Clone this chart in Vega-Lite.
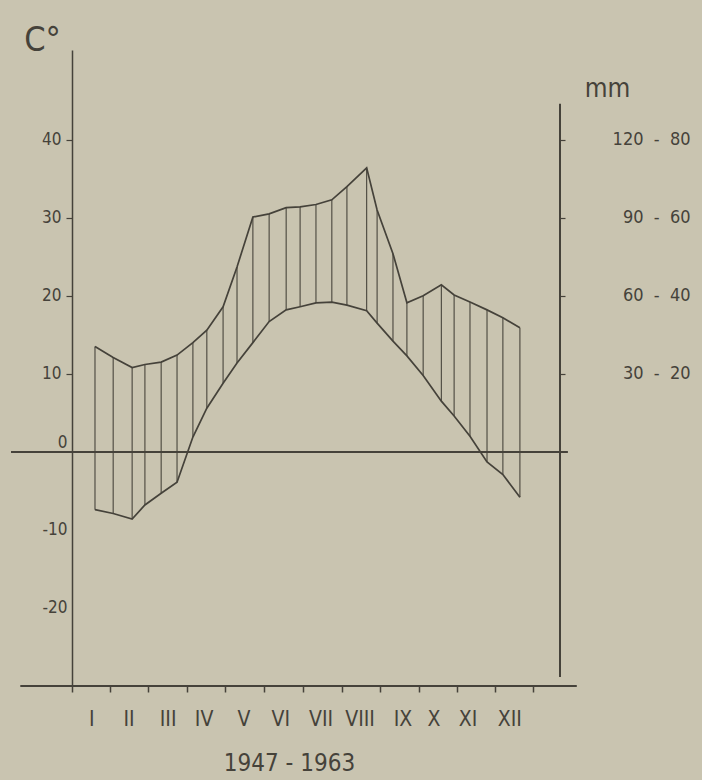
{
  "$schema": "https://vega.github.io/schema/vega-lite/v6.json",
  "width": 488,
  "height": 636,
  "autosize": "none",
  "padding": {"left": 72, "top": 50, "right": 142, "bottom": 94},
  "background": "#c9c4b0",
  "config": {
    "view": {"stroke": null},
    "font": "'Liberation Sans Narrow', 'DejaVu Sans Condensed', 'Roboto', sans-serif",
    "axis": {"grid": false, "labelColor": "#45423a", "titleColor": "#45423a", "tickColor": "#45423a", "domainColor": "#45423a", "titleFontWeight": "normal"}
  },
  "datasets": {
    "hatch": [
      {"m": 1.00, "p": 13.5, "t": -7.4},
      {"m": 1.47, "p": 12.1, "t": -7.9},
      {"m": 1.96, "p": 10.8, "t": -8.6},
      {"m": 2.29, "p": 11.2, "t": -6.8},
      {"m": 2.71, "p": 11.5, "t": -5.3},
      {"m": 3.12, "p": 12.4, "t": -3.9},
      {"m": 3.53, "p": 14.0, "t": 1.9},
      {"m": 3.89, "p": 15.6, "t": 5.6},
      {"m": 4.31, "p": 18.6, "t": 8.8},
      {"m": 4.67, "p": 23.7, "t": 11.4},
      {"m": 5.08, "p": 30.1, "t": 14.0},
      {"m": 5.50, "p": 30.5, "t": 16.7},
      {"m": 5.94, "p": 31.3, "t": 18.2},
      {"m": 6.30, "p": 31.4, "t": 18.6},
      {"m": 6.71, "p": 31.7, "t": 19.1},
      {"m": 7.12, "p": 32.3, "t": 19.2},
      {"m": 7.51, "p": 34.0, "t": 18.8},
      {"m": 8.02, "p": 36.4, "t": 18.1},
      {"m": 8.29, "p": 31.0, "t": 16.5},
      {"m": 8.70, "p": 25.4, "t": 14.2},
      {"m": 9.06, "p": 19.1, "t": 12.3},
      {"m": 9.48, "p": 20.0, "t": 9.8},
      {"m": 9.95, "p": 21.4, "t": 6.5},
      {"m": 10.28, "p": 20.1, "t": 4.6},
      {"m": 10.69, "p": 19.2, "t": 2.0},
      {"m": 11.13, "p": 18.2, "t": -1.3},
      {"m": 11.54, "p": 17.2, "t": -2.9},
      {"m": 11.98, "p": 15.9, "t": -5.8}
    ],
    "months": [
      {"month": "I", "pos": 0.92},
      {"month": "II", "pos": 1.88},
      {"month": "III", "pos": 2.89},
      {"month": "IV", "pos": 3.82},
      {"month": "V", "pos": 4.85},
      {"month": "VI", "pos": 5.8},
      {"month": "VII", "pos": 6.84},
      {"month": "VIII", "pos": 7.85},
      {"month": "IX", "pos": 8.96},
      {"month": "X", "pos": 9.76},
      {"month": "XI", "pos": 10.64},
      {"month": "XII", "pos": 11.72}
    ],
    "lines": [
      {"from": -1.17, "to": 13.22, "level": 0, "kind": "zero"},
      {"from": -0.93, "to": 13.45, "level": -30, "kind": "base"}
    ],
    "rightaxis": [
      {"at": 13.016, "top": 133.8, "bottom": -86.5}
    ]
  },
  "layer": [
    {
      "layer": [
        {
          "data": {"name": "hatch"},
          "mark": {"type": "rule", "color": "#48453c", "strokeWidth": 1.1},
          "encoding": {
            "x": {
              "field": "m", "type": "quantitative",
              "scale": {"domain": [0.406, 13.016], "nice": false, "zero": false},
              "axis": {
                "orient": "bottom",
                "values": [0.41, 1.39, 2.37, 3.38, 4.36, 5.37, 6.37, 7.38, 8.36, 9.37, 10.35, 11.33, 12.31],
                "labels": false, "domain": false, "tickSize": 6, "tickWidth": 1.5,
                "title": "1947 - 1963", "titleFontSize": 24, "titleX": 217, "titleY": 77,
                "titleAlign": "center", "titleBaseline": "middle"
              }
            },
            "y": {
              "field": "t", "type": "quantitative",
              "scale": {"domain": [-30, 51.5], "nice": false, "zero": false},
              "axis": {
                "orient": "left",
                "values": [-20, -10, 0, 10, 20, 30, 40],
                "labelExpr": "'' + datum.value",
                "tickSize": {"condition": {"test": "datum.value <= 0", "value": 0}, "value": 6},
                "labelOffset": {"condition": {"test": "datum.value == 0", "value": -9}, "value": 0},
                "labelPadding": 5, "labelFontSize": 17, "labelBaseline": "middle",
                "domainWidth": 1.5, "tickWidth": 1.2,
                "title": "C°", "titleAngle": 0, "titleFontSize": 34, "titleX": -30, "titleY": -10,
                "titleAlign": "center", "titleBaseline": "middle"
              }
            },
            "y2": {"field": "p"}
          }
        },
        {
          "data": {"name": "hatch"},
          "mark": {"type": "line", "color": "#45423a", "strokeWidth": 1.7},
          "encoding": {
            "x": {"field": "m", "type": "quantitative"},
            "y": {"field": "p", "type": "quantitative"}
          }
        },
        {
          "data": {"name": "hatch"},
          "mark": {"type": "line", "color": "#45423a", "strokeWidth": 1.7},
          "encoding": {
            "x": {"field": "m", "type": "quantitative"},
            "y": {"field": "t", "type": "quantitative"}
          }
        },
        {
          "data": {"name": "lines"},
          "mark": {"type": "rule", "color": "#45423a", "strokeWidth": 2},
          "encoding": {
            "x": {"field": "from", "type": "quantitative"},
            "x2": {"field": "to"},
            "y": {"field": "level", "type": "quantitative"}
          }
        },
        {
          "data": {"name": "months"},
          "mark": {"type": "text", "color": "#45423a", "fontSize": 21, "baseline": "middle", "align": "center"},
          "encoding": {
            "x": {"field": "pos", "type": "quantitative"},
            "y": {"datum": -34.4},
            "text": {"field": "month"}
          }
        }
      ]
    },
    {
      "data": {"name": "rightaxis"},
      "mark": {"type": "rule", "color": "#45423a", "strokeWidth": 2},
      "encoding": {
        "x": {"field": "at", "type": "quantitative"},
        "y": {
          "field": "top", "type": "quantitative",
          "scale": {"domain": [-90, 154.5], "nice": false, "zero": false},
          "axis": {
            "orient": "right", "domain": false,
            "values": [30, 60, 90, 120], "tickSize": 5, "tickWidth": 1.2,
            "labelExpr": "datum.value + '\u00a0\u00a0-\u00a0\u00a0' + (datum.value * 2 / 3)",
            "labelAlign": "right", "labelPadding": 125, "labelFontSize": 18, "labelBaseline": "middle",
            "title": "mm", "titleAngle": 0, "titleFontSize": 26, "titleX": 47, "titleY": 38,
            "titleAlign": "center", "titleBaseline": "middle"
          }
        },
        "y2": {"field": "bottom"}
      }
    }
  ],
  "resolve": {"scale": {"y": "independent"}}
}
